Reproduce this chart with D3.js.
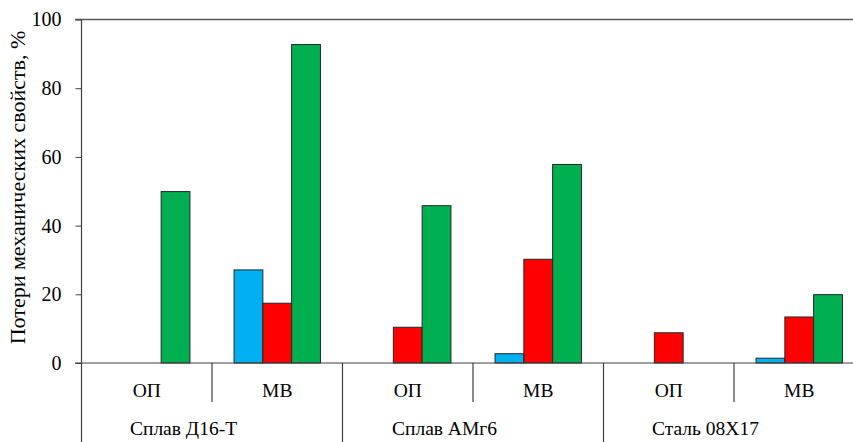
<!DOCTYPE html>
<html>
<head>
<meta charset="utf-8">
<script src="https://cdn.jsdelivr.net/npm/d3@7"></script>
<style>
  html, body { margin: 0; padding: 0; background: #fff; overflow: hidden; }
  svg { display: block; }
</style>
</head>
<body>
<svg id="chart" width="853" height="442"></svg>
<script>
// ---- Data ----
const alloys = ["Сплав Д16-Т", "Сплав АМг6", "Сталь 08Х17"];
const conditions = ["ОП", "МВ"];
const categories = ["Д16-Т ОП", "Д16-Т МВ", "АМг6 ОП", "АМг6 МВ", "08Х17 ОП", "08Х17 МВ"];
const seriesNames = ["s1", "s2", "s3"];
const seriesBlue  = [null, 27.1, null, 2.7, null, 1.4];
const seriesRed   = [null, 17.4, 10.4, 30.2, 8.8, 13.4];
const seriesGreen = [49.9, 92.7, 45.8, 57.8, null, 19.9];
const yTicks = [0, 20, 40, 60, 80, 100];
const yTitle = "Потери механических свойств, %";

const seriesColors = ["#00B0F0", "#FF0000", "#00B050"];
const seriesValues = [seriesBlue, seriesRed, seriesGreen];

// ---- Layout ----
const FONT = "'Liberation Serif', Tinos, 'Times New Roman', serif";
const FS = "19.5px";
const svg = d3.select("#chart");
const x0 = 81.5, catW = 130.5;
const yTop = 19.5, yZero = 363;
const axisColor = "#404040";

const x = d3.scaleBand().domain(categories).range([x0, x0 + catW * categories.length]).padding(0);
const xs = d3.scaleBand().domain(seriesNames).range([0, x.bandwidth()]).paddingInner(0).paddingOuter(0.766);
const y = d3.scaleLinear().domain([0, 100]).range([yZero, yTop]);

// top border line
svg.append("line")
  .attr("x1", 75).attr("x2", 853)
  .attr("y1", y(100)).attr("y2", y(100))
  .attr("stroke", "#595959").attr("stroke-width", 1.3);

// bars
const barData = [];
categories.forEach((c, i) => {
  seriesNames.forEach((s, j) => {
    const v = seriesValues[j][i];
    if (v !== null) barData.push({ c, s, v, color: seriesColors[j] });
  });
});
svg.append("g").selectAll("rect").data(barData).join("rect")
  .attr("x", d => x(d.c) + xs(d.s))
  .attr("width", xs.bandwidth())
  .attr("y", d => y(d.v))
  .attr("height", d => y(0) - y(d.v))
  .attr("fill", d => d.color)
  .attr("stroke", "#262626")
  .attr("stroke-width", 1);

// y axis
const yAxis = d3.axisLeft(y).tickValues(yTicks).tickSize(6).tickPadding(14).tickFormat(d3.format("d"));
const gy = svg.append("g").attr("transform", `translate(${x0},0)`).call(yAxis);
gy.attr("font-family", null).attr("font-size", null);
gy.select(".domain").remove();
gy.selectAll(".tick line").attr("stroke", axisColor);
gy.selectAll(".tick text")
  .style("font-family", FONT)
  .style("font-size", "20px")
  .attr("fill", "#000");
svg.append("line")
  .attr("x1", x0).attr("x2", x0)
  .attr("y1", y(100)).attr("y2", 442)
  .attr("stroke", axisColor).attr("stroke-width", 1.2);

// x axis baseline
svg.append("line")
  .attr("x1", 75).attr("x2", 853)
  .attr("y1", yZero).attr("y2", yZero)
  .attr("stroke", axisColor).attr("stroke-width", 1.2);

// category dividers
categories.forEach((c, i) => {
  if (i === 0) return;
  const xx = x(c);
  const isAlloy = i % 2 === 0;
  svg.append("line")
    .attr("x1", xx).attr("x2", xx)
    .attr("y1", yZero).attr("y2", isAlloy ? 442 : 402)
    .attr("stroke", axisColor).attr("stroke-width", 1.2);
});

// condition labels
svg.append("g").selectAll("text").data(categories).join("text")
  .attr("x", d => x(d) + x.bandwidth() / 2)
  .attr("y", 397)
  .attr("text-anchor", "middle")
  .style("font-family", FONT)
  .style("font-size", FS)
  .text((d, i) => conditions[i % 2]);

// alloy labels
svg.append("g").selectAll("text").data(alloys).join("text")
  .attr("x", (d, i) => x(categories[i * 2]) + 102)
  .attr("y", 435)
  .attr("text-anchor", "middle")
  .style("font-family", FONT)
  .style("font-size", FS)
  .text(d => d);

// y title
svg.append("text")
  .attr("transform", `translate(25,${(28 + 347) / 2}) rotate(-90)`)
  .attr("text-anchor", "middle")
  .style("font-family", FONT)
  .style("font-size", "22px")
  .text(yTitle);
</script>
</body>
</html>
